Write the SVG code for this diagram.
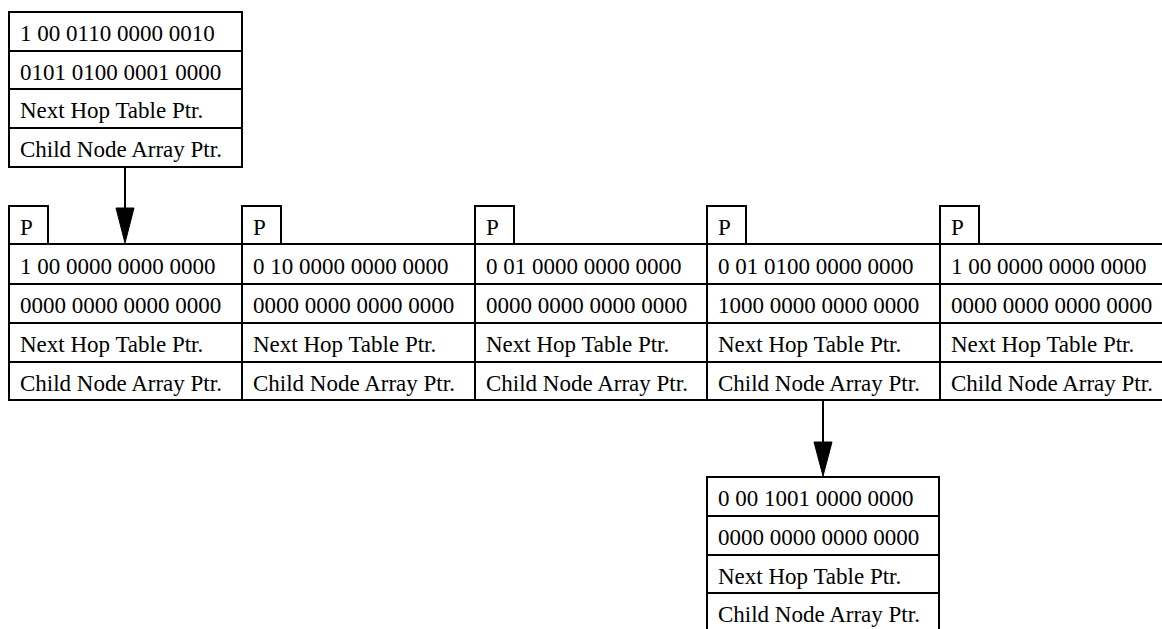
<svg xmlns="http://www.w3.org/2000/svg" width="1162" height="629" viewBox="0 0 1162 629">
<style>
rect{fill:#fff;stroke:#000;stroke-width:2}
line.r{stroke:#000;stroke-width:2}
text{font-family:"Liberation Serif","Times New Roman",serif;font-size:23px;fill:#000}
.e{stroke:#000;stroke-width:2;fill:none}
</style>
<g id="top">
<rect x="9" y="12" width="233" height="155"/>
<line class="r" x1="9" y1="51" x2="242" y2="51"/><line class="r" x1="9" y1="89" x2="242" y2="89"/><line class="r" x1="9" y1="128" x2="242" y2="128"/>
<text x="20" y="41">1 00 0110 0000 0010</text>
<text x="20" y="80">0101 0100 0001 0000</text>
<text x="20" y="118">Next Hop Table Ptr.</text>
<text x="20" y="157">Child Node Array Ptr.</text>
</g>
<g id="n1">
<rect x="9" y="206" width="39" height="38"/>
<text x="20" y="235">P</text>
<rect x="9" y="244" width="233" height="156"/>
<line class="r" x1="9" y1="284" x2="242" y2="284"/><line class="r" x1="9" y1="323" x2="242" y2="323"/><line class="r" x1="9" y1="362" x2="242" y2="362"/>
<text x="20" y="274">1 00 0000 0000 0000</text>
<text x="20" y="313">0000 0000 0000 0000</text>
<text x="20" y="352">Next Hop Table Ptr.</text>
<text x="20" y="391">Child Node Array Ptr.</text>
</g>
<g id="n2">
<rect x="242" y="206" width="39" height="38"/>
<text x="253" y="235">P</text>
<rect x="242" y="244" width="233" height="156"/>
<line class="r" x1="242" y1="284" x2="475" y2="284"/><line class="r" x1="242" y1="323" x2="475" y2="323"/><line class="r" x1="242" y1="362" x2="475" y2="362"/>
<text x="253" y="274">0 10 0000 0000 0000</text>
<text x="253" y="313">0000 0000 0000 0000</text>
<text x="253" y="352">Next Hop Table Ptr.</text>
<text x="253" y="391">Child Node Array Ptr.</text>
</g>
<g id="n3">
<rect x="475" y="206" width="39" height="38"/>
<text x="486" y="235">P</text>
<rect x="475" y="244" width="232" height="156"/>
<line class="r" x1="475" y1="284" x2="707" y2="284"/><line class="r" x1="475" y1="323" x2="707" y2="323"/><line class="r" x1="475" y1="362" x2="707" y2="362"/>
<text x="486" y="274">0 01 0000 0000 0000</text>
<text x="486" y="313">0000 0000 0000 0000</text>
<text x="486" y="352">Next Hop Table Ptr.</text>
<text x="486" y="391">Child Node Array Ptr.</text>
</g>
<g id="n4">
<rect x="707" y="206" width="39" height="38"/>
<text x="718" y="235">P</text>
<rect x="707" y="244" width="233" height="156"/>
<line class="r" x1="707" y1="284" x2="940" y2="284"/><line class="r" x1="707" y1="323" x2="940" y2="323"/><line class="r" x1="707" y1="362" x2="940" y2="362"/>
<text x="718" y="274">0 01 0100 0000 0000</text>
<text x="718" y="313">1000 0000 0000 0000</text>
<text x="718" y="352">Next Hop Table Ptr.</text>
<text x="718" y="391">Child Node Array Ptr.</text>
</g>
<g id="n5">
<rect x="940" y="206" width="39" height="38"/>
<text x="951" y="235">P</text>
<rect x="940" y="244" width="233" height="156"/>
<line class="r" x1="940" y1="284" x2="1173" y2="284"/><line class="r" x1="940" y1="323" x2="1173" y2="323"/><line class="r" x1="940" y1="362" x2="1173" y2="362"/>
<text x="951" y="274">1 00 0000 0000 0000</text>
<text x="951" y="313">0000 0000 0000 0000</text>
<text x="951" y="352">Next Hop Table Ptr.</text>
<text x="951" y="391">Child Node Array Ptr.</text>
</g>
<g id="bottom">
<rect x="707" y="477" width="232" height="156"/>
<line class="r" x1="707" y1="516" x2="939" y2="516"/><line class="r" x1="707" y1="555" x2="939" y2="555"/><line class="r" x1="707" y1="593" x2="939" y2="593"/>
<text x="718" y="506">0 00 1001 0000 0000</text>
<text x="718" y="545">0000 0000 0000 0000</text>
<text x="718" y="584">Next Hop Table Ptr.</text>
<text x="718" y="622">Child Node Array Ptr.</text>
</g>
<g id="connectors">
<line class="e" x1="125" y1="167" x2="125" y2="210"/>
<path d="M116,208 L125,243 L134,208 Z" fill="#000" stroke="#000" stroke-width="1"/>
<line class="e" x1="823" y1="400" x2="823" y2="444"/>
<path d="M814,442 L823,476 L832,442 Z" fill="#000" stroke="#000" stroke-width="1"/>
</g>
</svg>
